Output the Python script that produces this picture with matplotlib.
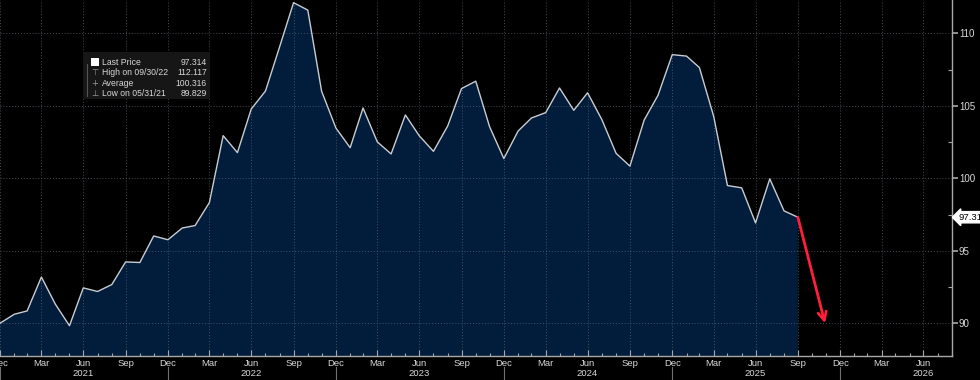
import matplotlib
matplotlib.use("Agg")
import matplotlib.pyplot as plt
import matplotlib.dates as mdates
import matplotlib.transforms as mtransforms
import pandas as pd

plt.rcParams["font.family"] = ["Liberation Sans", "DejaVu Sans"]

# ---- data ----
dates = pd.date_range("2020-12-31", "2025-09-30", freq="ME")
values = [90.0, 90.62, 90.85, 93.19, 91.33, 89.829, 92.44, 92.19, 92.67, 94.23,
          94.19, 96.02, 95.76, 96.57, 96.74, 98.32, 102.94, 101.77, 104.78, 106.02,
          109.1, 112.117, 111.6, 106.0, 103.47, 102.11, 104.85, 102.51, 101.68, 104.37,
          102.94, 101.86, 103.61, 106.19, 106.70, 103.56, 101.36, 103.26, 104.16, 104.53,
          106.23, 104.69, 105.90, 104.05, 101.72, 100.84, 104.02, 105.72, 108.53, 108.43,
          107.64, 104.28, 99.50, 99.34, 96.92, 99.96, 97.75, 97.314]
legend_labels = ["Last Price", "High on 09/30/22", "Average", "Low on 05/31/21"]
legend_values = ["97.314", "112.117", "100.316", "89.829"]
y_ticks = [90, 95, 100, 105, 110]
arrow_end_date = pd.Timestamp("2025-11-28")
arrow_end_value = 90.0

BG = "#000000"
FILL = "#021c3b"
LINE = "#c9ccd0"
GRID = "#5a6470"
TXT = "#d8d8d8"
SPINE = "#a8a8a8"

W, H = 980, 380
fig = plt.figure(figsize=(W / 100, H / 100), dpi=100, facecolor=BG)
ax = fig.add_axes([0, 24 / H, 952 / W, 356 / H], facecolor=BG)

x = mdates.date2num(dates)
ax.fill_between(x, values, 80, color=FILL, zorder=1, linewidth=0)
ax.plot(x, values, color=LINE, lw=1.0, zorder=3)

xmin = mdates.date2num(pd.Timestamp("2020-12-31"))
xmax = mdates.date2num(pd.Timestamp("2026-08-31"))
ax.set_xlim(xmin, xmax)
ax.set_ylim(87.74, 112.3)

# grid
ax.set_yticks(y_ticks)
ax.set_yticks([92.5, 97.5, 102.5, 107.5], minor=True)
quarters = pd.date_range("2020-12-31", "2026-08-31", freq="QE-DEC")
months = pd.date_range("2020-12-31", "2026-08-31", freq="ME")
ax.set_xticks(mdates.date2num(quarters))
ax.set_xticks(mdates.date2num(months), minor=True)
ax.set_xticklabels([d.strftime("%b") for d in quarters])
ax.grid(True, which="major", color=GRID, ls=(0, (1, 2)), lw=0.7, alpha=0.75, zorder=2)
ax.set_axisbelow(False)

ax.yaxis.tick_right()
for s in ["top", "left"]:
    ax.spines[s].set_visible(False)
for s in ["right", "bottom"]:
    ax.spines[s].set_color(SPINE)
    ax.spines[s].set_linewidth(1.0)
ax.tick_params(axis="y", which="major", colors=SPINE, labelcolor=TXT, direction="out",
               length=4, width=1.2, labelsize=7, pad=1)
ax.tick_params(axis="y", which="minor", colors=SPINE, direction="in", length=3, width=0.8)
ax.tick_params(axis="x", which="major", colors=SPINE, labelcolor=TXT, direction="in",
               length=4, width=0.8, labelsize=6.8, pad=2)
ax.tick_params(axis="x", which="minor", colors=SPINE, direction="in", length=2.5, width=0.8)

# year labels and separators
trans = mtransforms.blended_transform_factory(ax.transData, ax.transAxes)
for yr in range(2021, 2027):
    xj = mdates.date2num(pd.Timestamp(f"{yr}-06-30"))
    ax.text(xj, -17.5 / 356, str(yr), transform=trans, ha="center", va="center",
            color=TXT, fontsize=6.8, clip_on=False)
for yr in range(2020, 2026):
    xd = mdates.date2num(pd.Timestamp(f"{yr}-12-31"))
    ax.plot([xd, xd], [-11 / 356, -24 / 356], transform=trans, color="#707070",
            lw=0.8, clip_on=False)

# last price tag
ax.annotate(legend_values[0], xy=(1.0, values[-1]),
            xycoords=("axes fraction", "data"), xytext=(4.5, 0),
            textcoords="offset points", ha="left", va="center", fontsize=6.8,
            color="#000000", annotation_clip=False,
            bbox=dict(boxstyle="larrow,pad=0.12", fc="#ffffff", ec="#ffffff"))

# red arrow
ax.annotate("", xy=(mdates.date2num(arrow_end_date), arrow_end_value),
            xytext=(x[-1], values[-1]),
            arrowprops=dict(arrowstyle="->,head_length=0.6,head_width=0.3",
                            color="#ff1e3c", lw=2.0, shrinkA=0, shrinkB=0),
            zorder=5)

# legend box
def fx(px):
    return px / W
def fy(py):
    return 1 - py / H

fig.patches.append(plt.Rectangle((fx(83), fy(99)), fx(210) - fx(83), fy(52) - fy(99),
                                 transform=fig.transFigure, fc="#161616", ec="none",
                                 zorder=4))
rows = [62.3, 72.7, 83.3, 93.3]
fig.patches.append(plt.Rectangle((fx(91), fy(66)), fx(99) - fx(91), fy(58) - fy(66),
                                 transform=fig.transFigure, fc="#ffffff", ec="none",
                                 zorder=5))
fig.lines.append(plt.Line2D([fx(87), fx(87)], [fy(64), fy(96)], transform=fig.transFigure,
                            color="#555555", lw=0.8, zorder=5))
icons = ["", "\u22a4", "+", "\u22a5"]
for r, lab, val, ic in zip(rows, legend_labels, legend_values, icons):
    if ic:
        fig.text(fx(95), fy(r), ic, ha="center", va="center", color="#9a9a9a",
                 fontsize=6, zorder=6, family=["DejaVu Sans"])
    fig.text(fx(102), fy(r), lab, ha="left", va="center", color=TXT, fontsize=6.2,
             zorder=6)
    fig.text(fx(207), fy(r), val, ha="right", va="center", color=TXT, fontsize=6.2,
             zorder=6)

fig.savefig("out.png", dpi=100, facecolor=BG)
